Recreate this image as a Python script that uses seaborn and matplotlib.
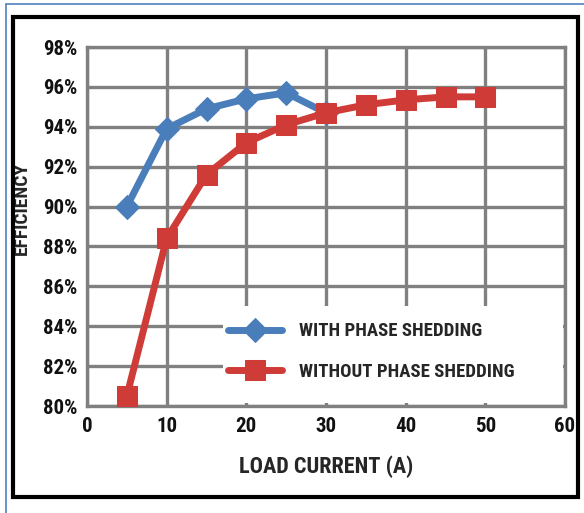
import matplotlib
matplotlib.use('Agg')
import matplotlib.pyplot as plt
import matplotlib.patches as mpatches
import matplotlib.lines as mlines
from matplotlib import font_manager
import seaborn as sns
import pandas as pd
from matplotlib.ticker import FuncFormatter

# data
current_with = [5, 10, 15, 20, 25, 30]
eff_with = [90.0, 93.9, 94.9, 95.4, 95.7, 94.7]
current_without = [5, 10, 15, 20, 25, 30, 35, 40, 45, 50]
eff_without = [80.5, 88.4, 91.6, 93.2, 94.1, 94.7, 95.1, 95.35, 95.5, 95.5]
x_ticks = [0, 10, 20, 30, 40, 50, 60]
y_ticks = [80, 82, 84, 86, 88, 90, 92, 94, 96, 98]

BLUE = '#4A7EBB'
RED = '#CF3B37'
GRID = '#808080'

sns.set_style('white')

# prefer a narrow font (the original looks like Calibri bold)
names = {f.name for f in font_manager.fontManager.ttflist}
narrow = [n for n in ['Liberation Sans Narrow', 'Roboto Condensed', 'Open Sans Condensed'] if n in names]
plt.rcParams['font.family'] = narrow + ['Roboto', 'DejaVu Sans']
WEIGHT = 'bold' if narrow else 'medium'

fig = plt.figure(figsize=(5.84, 5.13), dpi=100)
W, H = 584, 513

# outer frames (blue thin border on top/left, thick black box)
fig.add_artist(mlines.Line2D([6 / W, 1], [1 - 4 / H, 1 - 4 / H], color='#4F81BD', lw=1.2))
fig.add_artist(mlines.Line2D([6 / W, 6 / W], [0, 1 - 4 / H], color='#4F81BD', lw=1.2))
fig.add_artist(mpatches.Rectangle((13 / W, 1 - 497 / H), (578 - 13) / W, (497 - 17) / H,
                                  fill=False, edgecolor='black', lw=3))

ax = fig.add_axes([87 / W, 1 - 406 / H, (565 - 87) / W, (406 - 47) / H])

df_with = pd.DataFrame({'x': current_with, 'y': eff_with})
df_without = pd.DataFrame({'x': current_without, 'y': eff_without})

sns.lineplot(data=df_with, x='x', y='y', ax=ax, color=BLUE, lw=5, marker='D',
             markersize=12, markeredgecolor=BLUE, label='WITH PHASE SHEDDING', zorder=3)
sns.lineplot(data=df_without, x='x', y='y', ax=ax, color=RED, lw=5, marker='s',
             markersize=14, markeredgecolor=RED, label='WITHOUT PHASE SHEDDING', zorder=4)

ax.set_xlim(0, 60)
ax.set_ylim(80, 98)
ax.set_xticks(x_ticks)
ax.set_yticks(y_ticks)
ax.yaxis.set_major_formatter(FuncFormatter(lambda v, p: f'{v:.0f}%'))
ax.grid(True, color=GRID, lw=2.4)
ax.set_axisbelow(True)
for s in ax.spines.values():
    s.set_color(GRID)
    s.set_linewidth(2.4)
ax.tick_params(axis='both', length=0, labelsize=15, colors='#111111')
ax.tick_params(axis='y', pad=7)
ax.tick_params(axis='x', pad=8)
for t in ax.get_xticklabels() + ax.get_yticklabels():
    t.set_fontweight(WEIGHT)

ax.set_xlabel('LOAD CURRENT (A)', fontsize=16, fontweight=WEIGHT, labelpad=14)
ax.set_ylabel('EFFICIENCY', fontsize=14, fontweight='bold')
ax.yaxis.set_label_coords(-0.118, 0.55)

# white area behind the legend hides the grid there
ax.add_patch(mpatches.Rectangle((0.285, 0.008), 0.71, 0.27, transform=ax.transAxes,
                                facecolor='white', edgecolor='none', zorder=1))
leg = ax.legend(loc='center left', bbox_to_anchor=(0.295, 0.152), frameon=False,
                prop={'size': 13.5, 'weight': WEIGHT},
                handlelength=2.9, handletextpad=0.9, labelspacing=1.2,
                borderpad=0, borderaxespad=0)

fig.savefig('out.png', dpi=100)
